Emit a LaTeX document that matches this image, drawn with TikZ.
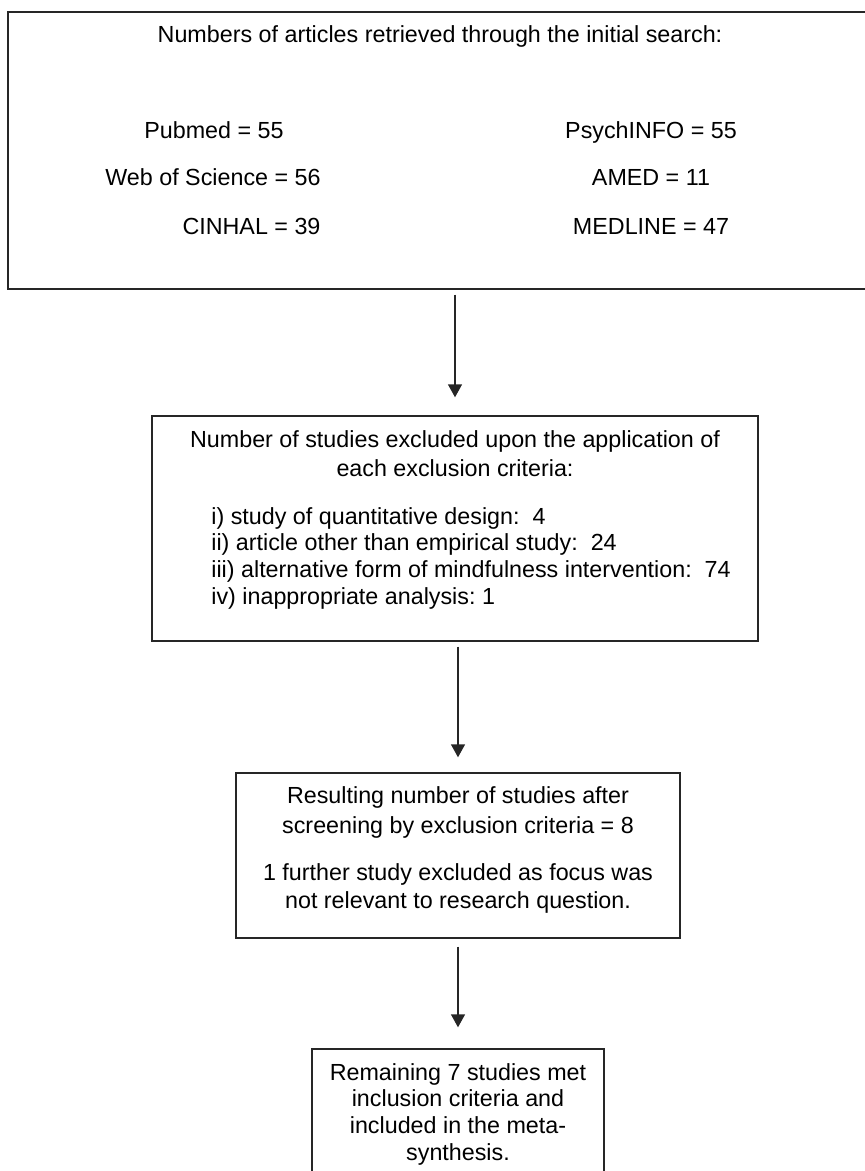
\documentclass[tikz,border=0pt]{standalone}
\usepackage{fontspec}
\setmainfont{Liberation Sans}
\usetikzlibrary{arrows.meta}
\tikzset{
  box/.style={draw=black!85, line width=0.7pt, inner sep=0pt},
  txt/.style={anchor=base, inner sep=0pt, font=\fontsize{11.65pt}{14pt}\selectfont},
  itm/.style={txt, anchor=base west},
  arr/.style={draw=black!85, line width=0.7pt, -{Triangle[length=6.5pt,width=7pt]}}
}
\frenchspacing
\begin{document}
\begin{tikzpicture}[x=0.5pt,y=-0.5pt]
            \clip (0,0) rectangle (865,1171);

            \node[box, minimum width=432pt, minimum height=138.5pt] (search) at (440,150.5) {};
            \node[box, minimum width=303pt, minimum height=112.5pt] (excl) at (455,528.5) {};
            \node[box, minimum width=222pt, minimum height=82.5pt] (screen) at (458,855.5) {};
            \node[box, minimum width=146pt, minimum height=61.5pt] (final) at (458,1110.5) {};

            \draw[arr, shorten <=2.5pt, shorten >=9pt] (search.south -| excl.north) -- (excl.north);
            \draw[arr, shorten <=2.5pt, shorten >=7.5pt] (excl.south -| screen.north) -- (screen.north);
            \draw[arr, shorten <=4pt, shorten >=10.5pt] (screen.south -| final.north) -- (final.north);

            \node[txt] (title) at (440,43) {Numbers of articles retrieved through the initial search:};
            \node[txt] (pubmed) at (214,139) {Pubmed = 55};
            \node[txt] (wos) at (213,186) {Web of Science = 56};
            \node[txt] (cinhal) at (251.5,235) {CINHAL = 39};
            \node[txt] (psych) at (651,139) {PsychINFO = 55};
            \node[txt] (amed) at (651,186) {AMED = 11};
            \node[txt] (medline) at (651,235) {MEDLINE = 47};

            \node[txt] (exhead) at (455,447.5) {Number of studies excluded upon the application of};
            \node[txt] (exhead2) at (455,476) {each exclusion criteria:};
            \node[itm] (ex1) at (211,524) {i) study of quantitative design:\ \ 4};
            \node[itm] (ex2) at (211,550.7) {ii) article other than empirical study:\ \ 24};
            \node[itm] (ex3) at (211,577.3) {iii) alternative form of mindfulness intervention:\ \ 74};
            \node[itm] (ex4) at (211,604) {iv) inappropriate analysis: 1};

            \node[txt] (sc1) at (458,803.5) {Resulting number of studies after};
            \node[txt] (sc2) at (458,833) {screening by exclusion criteria = 8};
            \node[txt] (sc3) at (458,880) {1 further study excluded as focus was};
            \node[txt] (sc4) at (458,908) {not relevant to research question.};

            \node[txt] (fin1) at (458,1080) {Remaining 7 studies met};
            \node[txt] (fin2) at (458,1106.7) {inclusion criteria and};
            \node[txt] (fin3) at (458,1133.3) {included in the meta-};
            \node[txt] (fin4) at (458,1160) {synthesis.};
\end{tikzpicture}
\end{document}
